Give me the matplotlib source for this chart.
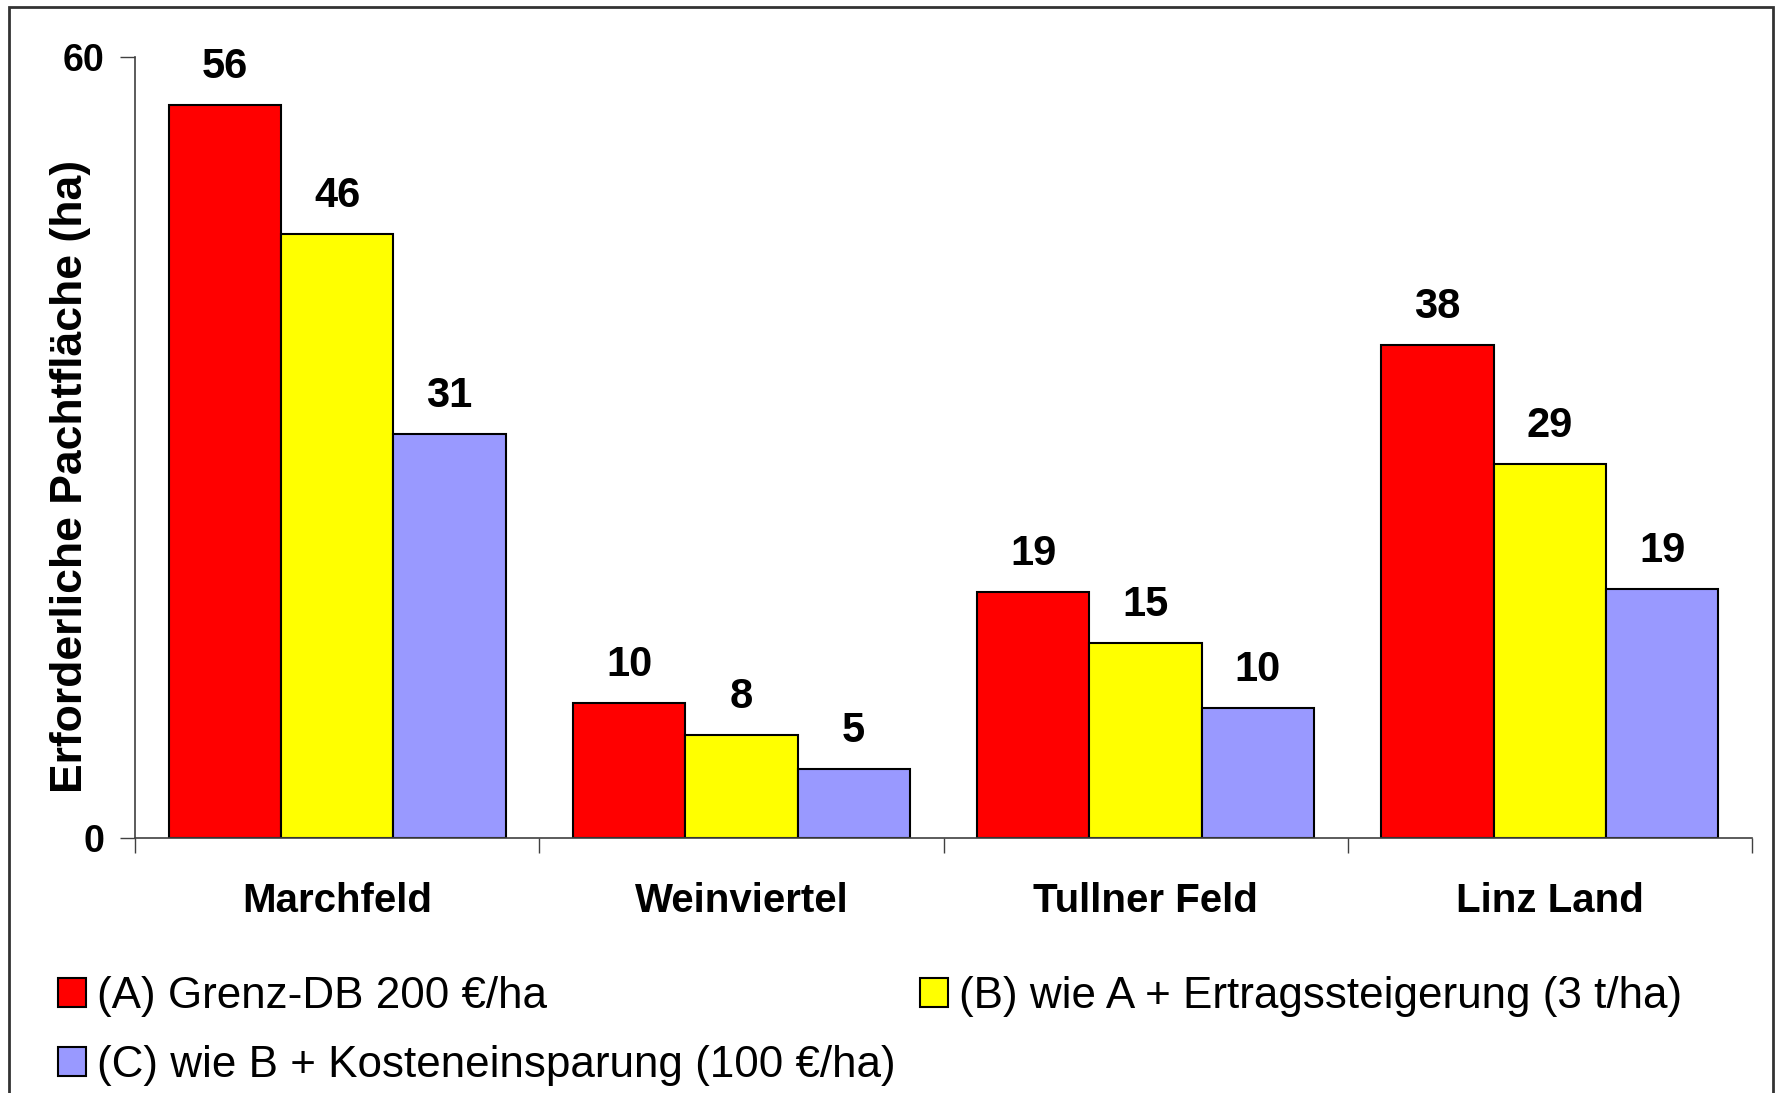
import numpy as np
import matplotlib
matplotlib.use("Agg")
import matplotlib.pyplot as plt
from matplotlib.patches import Rectangle

# Data
regions = ["Marchfeld", "Weinviertel", "Tullner Feld", "Linz Land"]
series_names = ["(A) Grenz-DB 200 €/ha",
                "(B) wie A + Ertragssteigerung (3 t/ha)",
                "(C) wie B + Kosteneinsparung (100 €/ha)"]
val_a = [56.3, 10.4, 18.9, 37.9]
val_b = [46.4, 7.9, 15.0, 28.7]
val_c = [31.0, 5.3, 10.0, 19.1]
colors = ["#FF0000", "#FFFF00", "#9999FF"]

plt.rcParams["font.family"] = ["Liberation Sans", "DejaVu Sans"]

fig = plt.figure(figsize=(17.76, 10.93), dpi=100)
ax = fig.add_axes([0.076, 0.2333, 0.9105, 0.7146])

x = np.arange(len(regions))
w = 1 / 3.6  # Excel gap width 60 %
handles = []
for k, (vals, col) in enumerate(zip([val_a, val_b, val_c], colors)):
    bars = ax.bar(x + (k - 1) * w, vals, w, color=col, edgecolor="black",
                  linewidth=1.5, label=series_names[k])
    ax.bar_label(bars, fmt="%.0f", padding=13, fontsize=30, fontweight="bold")
    handles.append(bars)

ax.set_xlim(-0.5, 3.5)
ax.set_ylim(0, 60)
ax.set_yticks([0, 60])
ax.set_yticklabels(["0", "60"], fontsize=27, fontweight="bold")
ax.tick_params(axis="y", length=11, width=1, pad=11, color="#404040")

# group separators as major ticks, names as minor ticks
ax.set_xticks(np.arange(-0.5, 4, 1))
ax.set_xticklabels([])
ax.tick_params(axis="x", which="major", length=11, width=1, color="#404040")
ax.set_xticks(x, minor=True)
ax.set_xticklabels(regions, minor=True, fontsize=29, fontweight="bold")
ax.tick_params(axis="x", which="minor", length=0, pad=32)

for s in ["top", "right"]:
    ax.spines[s].set_visible(False)
for s in ["left", "bottom"]:
    ax.spines[s].set_color("#404040")
    ax.spines[s].set_linewidth(1.2)

ax.set_ylabel("Erforderliche Pachtfläche (ha)", fontsize=32, fontweight="bold")
ax.yaxis.set_label_coords(-0.027, 0.4635)

# legend: A and C in first column, B in second
order = [0, 2, 1]
leg = fig.legend([handles[i] for i in order], [series_names[i] for i in order],
                 ncol=2, loc="upper left", bbox_to_anchor=(0.0105, 0.143),
                 frameon=False, fontsize=31.7, handlelength=0.63, handleheight=0.63,
                 handletextpad=0.25, columnspacing=0.55, labelspacing=0.62)

# outer frame
fig.add_artist(Rectangle((9 / 1776, -0.05), (1773 - 9) / 1776, 1.05 - 7 / 1093,
                         transform=fig.transFigure, fill=False,
                         edgecolor="#333333", linewidth=2))

fig.savefig("out.png", dpi=100)
